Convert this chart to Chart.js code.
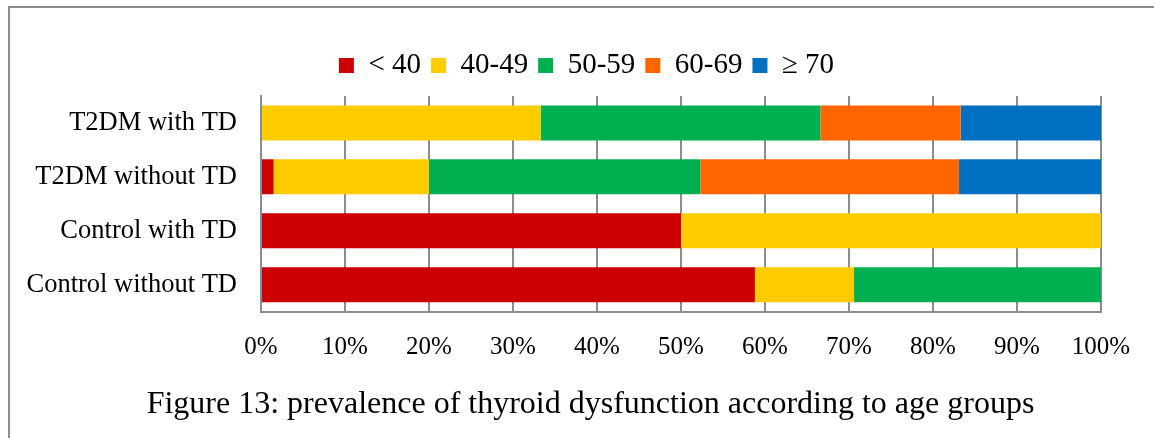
<!DOCTYPE html>
<html>
<head>
<meta charset="utf-8">
<script src="https://cdn.jsdelivr.net/npm/chart.js@4/dist/chart.umd.min.js"></script>
<style>
  html, body { margin: 0; padding: 0; background: #fff; }
  #wrap { position: relative; width: 1154px; height: 438px; overflow: hidden; background: #fff; }
  #frame { position: absolute; left: 8px; top: 6px; width: 2000px; height: 2000px; border: 2px solid #8c8c8c; pointer-events: none; }
  canvas { position: absolute; left: 0; top: 0; }
</style>
</head>
<body>
<div id="wrap">
  <div id="frame"></div>
  <canvas id="c" width="1154" height="438"></canvas>
</div>
<script>
const categories = ['T2DM with TD', 'T2DM without TD', 'Control with TD', 'Control without TD'];
const seriesLabels = ['< 40', '40-49', '50-59', '60-69', '\u2265 70'];
const seriesColors = ['#CC0000', '#FFCC00', '#00B050', '#FF6600', '#0070C0'];
const ageUnder40 = [0, 1.5, 50, 58.8];
const age40to49 = [33.3, 18.5, 50, 11.8];
const age50to59 = [33.3, 32.3, 0, 29.4];
const age60to69 = [16.7, 30.8, 0, 0];
const age70plus = [16.7, 16.9, 0, 0];
const xTickValues = [0, 10, 20, 30, 40, 50, 60, 70, 80, 90, 100];
const captionText = 'Figure 13: prevalence of thyroid dysfunction according to age groups';

const seriesValues = [ageUnder40, age40to49, age50to59, age60to69, age70plus];
const FONT = "'Liberation Serif', 'Times New Roman', serif";

const datasets = seriesValues.map((vals, i) => ({
  label: seriesLabels[i],
  data: vals,
  backgroundColor: seriesColors[i],
  borderWidth: 0,
  barPercentage: 0.65,
  categoryPercentage: 1.0
}));

// adds a little space under the legend row
const legendGap = {
  id: 'legendGap',
  afterInit(chart) {
    const lg = chart.legend;
    if (!lg) return;
    const orig = lg.fit.bind(lg);
    lg.fit = function () { orig(); this.height += 6; };
  },
  afterLayout(chart) {
    // centre legend and caption on the whole figure rather than the padded area
    const lg = chart.legend;
    if (lg) { lg.left += 36; lg.right += 36; }
    const t = chart.titleBlock;
    if (t) { t.left += 40; t.right += 40; }
  }
};

new Chart(document.getElementById('c'), {
  type: 'bar',
  data: { labels: categories, datasets: datasets },
  plugins: [legendGap],
  options: {
    indexAxis: 'y',
    responsive: false,
    animation: false,
    devicePixelRatio: 1,
    layout: { padding: { left: 0, right: 53, top: 41, bottom: 14 } },
    plugins: {
      legend: {
        position: 'top',
        align: 'center',
        labels: {
          font: { family: FONT, size: 29 },
          color: '#000',
          boxWidth: 15,
          boxHeight: 15,
          padding: 10
        }
      },
      title: {
        display: true,
        position: 'bottom',
        text: captionText,
        color: '#000',
        font: { family: FONT, size: 32, weight: 'normal' },
        padding: { top: 2, bottom: 0 }
      },
      tooltip: { enabled: false }
    },
    scales: {
      x: {
        stacked: true,
        min: 0,
        max: 100,
        afterBuildTicks: (scale) => { scale.ticks = xTickValues.map(v => ({ value: v })); },
        ticks: {
          callback: (v) => v + '%',
          font: { family: FONT, size: 25 },
          color: '#000',
          padding: 21,
          maxRotation: 0,
          autoSkip: false
        },
        grid: { color: '#8c8c8c', lineWidth: 2, drawTicks: false },
        border: { display: true, color: '#8c8c8c', width: 2 }
      },
      y: {
        stacked: true,
        afterFit: (scale) => { scale.width = 261; },
        ticks: {
          font: { family: FONT, size: 26.5 },
          color: '#000',
          padding: 24
        },
        grid: { display: false, drawTicks: false },
        border: { display: true, color: '#8c8c8c', width: 2 }
      }
    }
  }
});
</script>
</body>
</html>
